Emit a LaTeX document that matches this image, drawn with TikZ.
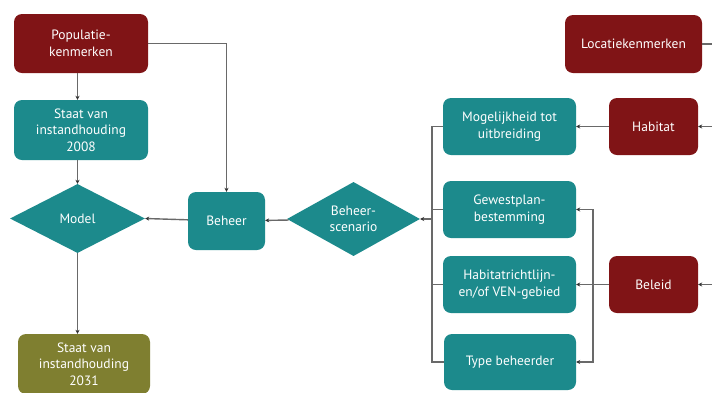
\documentclass[tikz,border=0pt]{standalone}
\usepackage{fontspec}
\setmainfont{PT Sans}
\usetikzlibrary{shapes.geometric,arrows.meta}
\definecolor{dred}{RGB}{128,20,22}
\definecolor{teal2}{RGB}{28,138,140}
\definecolor{olive2}{RGB}{127,127,48}
\definecolor{lgray}{RGB}{105,105,105}
\begin{document}
\begin{tikzpicture}[x=1pt,y=-1pt,
  box/.style={rectangle,rounded corners=8pt,draw=none,text=white,align=center,
    font=\fontsize{13.5}{16.5}\selectfont,inner sep=0pt},
  redbox/.style={box,fill=dred},
  tealbox/.style={box,fill=teal2},
  olivebox/.style={box,fill=olive2},
  dia/.style={diamond,fill=teal2,draw=none,text=white,align=center,
    font=\fontsize{13.5}{16.5}\selectfont,inner sep=0pt},
  conn/.style={draw=lgray,line width=1.4pt},
  arr/.style={conn,-{Stealth[length=4pt,width=4pt,color=black!80]}}
]
\useasboundingbox (0,0) rectangle (712,392);
\fill[white] (0,0) rectangle (712,392);

\node[redbox,minimum width=134pt,minimum height=59pt] (pop) at (81,43.5) {Populatie-\\kenmerken};
\node[tealbox,minimum width=134pt,minimum height=60pt] (s08) at (81,130) {Staat van\\instandhouding\\2008};
\node[dia,minimum width=135pt,minimum height=69pt] (model) at (77.5,218.5) {Model};
\node[olivebox,minimum width=132pt,minimum height=60pt] (s31) at (84,364) {Staat van\\instandhouding\\2031};
\node[tealbox,minimum width=77pt,minimum height=58pt] (beheer) at (226.5,221) {Beheer};
\node[dia,minimum width=133pt,minimum height=72pt] (scen) at (353.5,219) {Beheer-\\scenario};
\node[tealbox,minimum width=133pt,minimum height=57pt] (mog) at (509.5,126.5) {Mogelijkheid tot\\uitbreiding};
\node[tealbox,minimum width=133pt,minimum height=57pt] (gew) at (509.5,209.5) {Gewestplan-\\bestemming};
\node[tealbox,minimum width=133pt,minimum height=57pt] (hab) at (509.5,284.5) {Habitatrichtlijn-\\en/of VEN-gebied};
\node[tealbox,minimum width=132pt,minimum height=56pt] (type) at (510,362) {Type beheerder};
\node[redbox,minimum width=137pt,minimum height=58pt] (loc) at (633.5,44) {Locatiekenmerken};
\node[redbox,minimum width=89pt,minimum height=57pt] (habitat) at (653.5,126.5) {Habitat};
\node[redbox,minimum width=89pt,minimum height=57pt] (beleid) at (653.5,284.5) {Beleid};

\coordinate (busL) at (432,219);
\coordinate (busR) at (593,284.5);
\coordinate (edgeLoc) at (712,44);
\coordinate (edgeHab) at (712,126.5);
\coordinate (edgeBel) at (712,284.5);

\draw[arr] (pop.south -| model.center) -- (s08.north -| model.center);
\draw[arr] (pop.east) -| (beheer.north);
\draw[arr] (s08.south -| model.center) -- (model.north);
\draw[arr] (beheer) -- (model.east);
\draw[arr] (model.south) -- (s31.north -| model.center);
\draw[arr] (scen) -- (beheer);
\draw[conn] (mog.west) -| (busL) |- (type.west);
\draw[conn] (gew.west) -- (gew.west -| busL);
\draw[conn] (hab.west) -- (hab.west -| busL);
\draw[arr] (busL) -- (scen.east);
\draw[arr] (habitat) -- (mog);
\draw[arr] (beleid) -- (hab);
\draw[arr] (busR) |- (gew.east);
\draw[arr] (busR) |- (type.east);
\draw[conn] (loc.east) -- (edgeLoc);
\draw[arr] (edgeHab) -- (habitat.east);
\draw[arr] (edgeBel) -- (beleid.east);
\end{tikzpicture}
\end{document}
